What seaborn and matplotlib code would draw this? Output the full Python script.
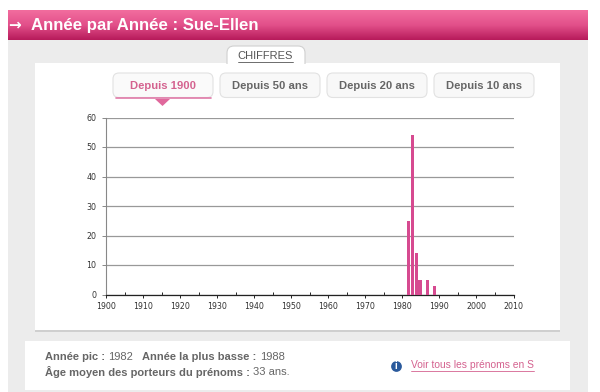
import numpy as np
import pandas as pd
import matplotlib
matplotlib.use("Agg")
import matplotlib.pyplot as plt
from matplotlib.patches import FancyBboxPatch, Rectangle, Polygon
import seaborn as sns

# values
years = [1981, 1982, 1983, 1984, 1986, 1988]
counts = [25, 54, 14, 5, 5, 3]
x_ticks = list(range(1900, 2011, 10))
y_ticks = [0, 10, 20, 30, 40, 50, 60]
tabs = ["Depuis 1900", "Depuis 50 ans", "Depuis 20 ans", "Depuis 10 ans"]
tab_left = [112, 219, 326, 433]
title = "Année par Année : Sue-Ellen"

W, H = 600, 392
PINK = "#d64a90"
GREY_TXT = "#666666"

sns.set_theme(style="white")
plt.rcParams["font.family"] = ["Liberation Sans", "DejaVu Sans"]

fig = plt.figure(figsize=(W / 100, H / 100), dpi=100, facecolor="white")

# page behind the chart, in pixel coordinates
bg = fig.add_axes([0, 0, 1, 1])
bg.set_xlim(0, W)
bg.set_ylim(H, 0)
bg.axis("off")

bg.add_patch(Rectangle((8, 40), 580, 352, color="#ececec", lw=0))
grad = np.linspace(0, 1, 30).reshape(-1, 1)
cmap = matplotlib.colors.LinearSegmentedColormap.from_list(
    "head", ["#f26c9e", "#e2508a", "#b81c5c"])
bg.imshow(grad, extent=(8, 588, 40, 10), cmap=cmap, aspect="auto", zorder=1)
bg.set_xlim(0, W)
bg.set_ylim(H, 0)

bg.add_patch(Rectangle((35, 63), 525, 267, color="white", lw=0, zorder=2))
bg.add_patch(Rectangle((35, 330), 525, 1.5, color="#cfcfcf", lw=0, zorder=2))
bg.add_patch(Rectangle((25, 341), 545, 49, color="white", lw=0, zorder=2))

bg.text(8, 24.5, "→", color="white", fontsize=11, fontweight="bold",
        family="DejaVu Sans", va="center", ha="left", zorder=3)
bg.text(31, 25, title, color="white", fontsize=12.1, fontweight="bold",
        va="center", ha="left", zorder=3)

# CHIFFRES tab
bg.add_patch(FancyBboxPatch((227, 46), 78, 26, boxstyle="round,pad=0,rounding_size=7",
                            fc="white", ec="#d0d0d0", lw=0.8, zorder=2.5))
bg.add_patch(Rectangle((226, 64), 80, 10, color="white", lw=0, zorder=2.6))
bg.text(265.5, 56, "CHIFFRES", color="#555555", fontsize=8, ha="center",
        va="center", zorder=3)
bg.plot([238, 293], [61.5, 61.5], color="#555555", lw=0.6, zorder=3)

# period buttons
for i, (name, left) in enumerate(zip(tabs, tab_left)):
    active = i == 0
    bg.add_patch(FancyBboxPatch((left + 1, 73), 100, 24.5,
                                boxstyle="round,pad=0,rounding_size=6",
                                fc="#fafafa" if active else "#f8f8f8",
                                ec="#e2e2e2", lw=0.8, zorder=3))
    if active:
        bg.plot([left + 4, left + 99], [98, 98], color="#e07aa8", lw=1.2, zorder=3.2)
    bg.text(left + 50.5, 85.5, name, color="#d4628f" if active else GREY_TXT,
            fontsize=8.1, fontweight="bold", ha="center", va="center", zorder=4)
bg.add_patch(Polygon([[155, 99], [170, 99], [162.5, 106]], color="#e0689c", lw=0, zorder=3))

# bottom info panel
bg.text(45, 357, "Année pic :", color=GREY_TXT, fontsize=8, fontweight="bold", va="center", zorder=4)
bg.text(108, 357, "1982", color=GREY_TXT, fontsize=8, va="center", zorder=4)
bg.text(142, 357, "Année la plus basse :", color=GREY_TXT, fontsize=8, fontweight="bold", va="center", zorder=4)
bg.text(260, 357, "1988", color=GREY_TXT, fontsize=8, va="center", zorder=4)
bg.text(45, 372, "Âge moyen des porteurs du prénoms :", color=GREY_TXT, fontsize=8, fontweight="bold", va="center", zorder=4)
bg.text(253, 372, "33 ans.", color=GREY_TXT, fontsize=8, va="center", zorder=4)
bg.scatter([396], [366], s=60, color="#2a5a9c", zorder=4, lw=0)
bg.text(396, 366, "i", color="white", fontsize=7, fontweight="bold", ha="center", va="center", zorder=5)
bg.text(411, 365.5, "Voir tous les prénoms en S", color="#d4628f", fontsize=7.4, va="center", zorder=4)
bg.plot([411, 534], [370.5, 370.5], color="#d4628f", lw=0.6, zorder=4)

# the chart itself
x0, x1, y_top, y_bot = 106, 513.5, 117.5, 294.5
ax = fig.add_axes([x0 / W, 1 - y_bot / H, (x1 - x0) / W, (y_bot - y_top) / H])
ax.patch.set_alpha(0)

# each bar sits just right of its year on the original axis
df = pd.DataFrame({"year": np.array(years) + 0.75, "count": counts})
sns.barplot(data=df, x="year", y="count", native_scale=True, width=0.85,
            color=PINK, saturation=1, linewidth=0, ax=ax, zorder=3)

ax.set_xlim(1900, 2010)
ax.set_ylim(0, 60)
ax.set_xlabel("")
ax.set_ylabel("")
ax.set_xticks(x_ticks)
ax.set_xticks(list(range(1905, 2010, 10)), minor=True)
ax.set_yticks(y_ticks)
ax.tick_params(axis="x", which="major", direction="out", length=2.5, width=0.7,
               color="#222222", labelsize=5.7, labelcolor="#333333", pad=3, bottom=True)
ax.tick_params(axis="x", which="minor", direction="in", length=2.5, width=0.7,
               color="#222222", bottom=True)
ax.tick_params(axis="y", direction="out", length=3, width=0.7, color="#888888",
               labelsize=5.7, labelcolor="#333333", pad=4, left=True)
for lab in ax.get_xticklabels() + ax.get_yticklabels():
    lab.set_family("DejaVu Sans")
ax.grid(axis="y", color="#999999", lw=0.9, zorder=1)
ax.set_axisbelow(True)
sns.despine(ax=ax, top=True, right=True)
ax.spines["left"].set_color("#888888")
ax.spines["left"].set_linewidth(0.8)
ax.spines["bottom"].set_color("#222222")
ax.spines["bottom"].set_linewidth(0.9)

fig.savefig("out.png", dpi=100)
